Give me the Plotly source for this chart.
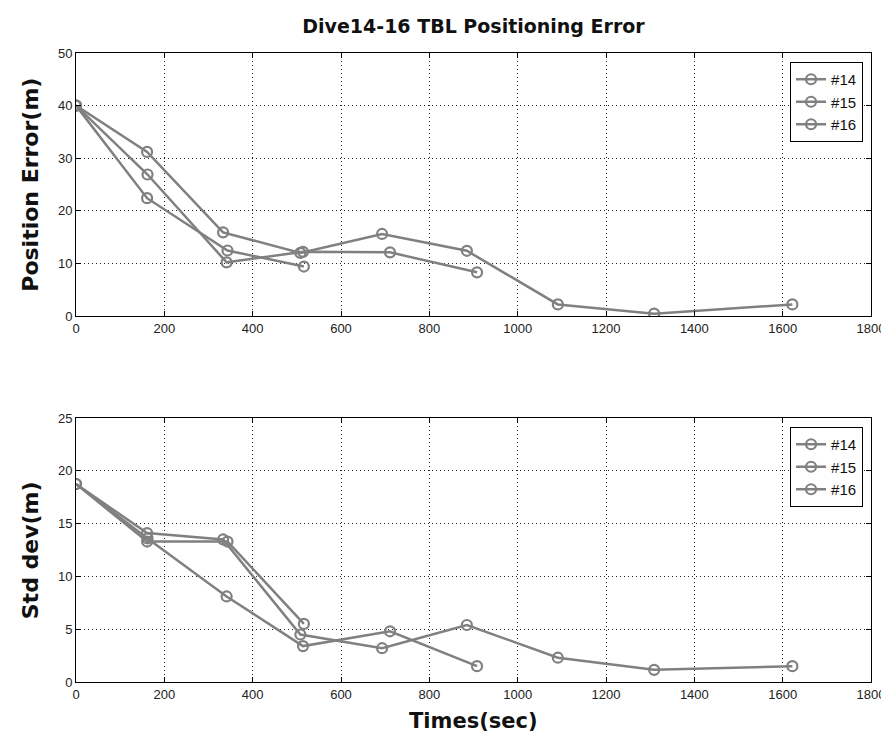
import plotly.graph_objects as go

# ---- data ----
series_names = ["#14", "#15", "#16"]

t14 = [0, 161, 333, 508, 693, 885, 1091, 1309, 1622]
t15 = [0, 162, 341, 514, 711, 908]
t16 = [0, 161, 343, 516]

err14 = [40, 31.2, 15.9, 12.0, 15.6, 12.4, 2.2, 0.45, 2.2]
err15 = [40, 26.9, 10.2, 12.2, 12.1, 8.3]
err16 = [40, 22.4, 12.45, 9.4]

std14 = [18.75, 14.1, 13.5, 4.5, 3.2, 5.4, 2.3, 1.15, 1.5]
std15 = [18.75, 13.6, 8.1, 3.4, 4.8, 1.5]
std16 = [18.75, 13.3, 13.3, 5.5]

x_ticks = list(range(0, 1801, 200))
y1_ticks = list(range(0, 51, 10))
y2_ticks = list(range(0, 26, 5))

title_text = "Dive14-16 TBL Positioning Error"
y1_title = "Position Error(m)"
y2_title = "Std dev(m)"
x_title = "Times(sec)"

LINE_COLOR = "#808080"

fig = go.Figure()

times = [t14, t15, t16]
errs = [err14, err15, err16]
stds = [std14, std15, std16]

for name, t, e in zip(series_names, times, errs):
    fig.add_trace(go.Scatter(
        x=t, y=e, name=name, mode="lines+markers",
        line=dict(color=LINE_COLOR, width=2.5),
        marker=dict(symbol="circle-open", size=10, color=LINE_COLOR, line=dict(width=2.2, color=LINE_COLOR)),
        xaxis="x", yaxis="y", legend="legend",
    ))
for name, t, s in zip(series_names, times, stds):
    fig.add_trace(go.Scatter(
        x=t, y=s, name=name, mode="lines+markers",
        line=dict(color=LINE_COLOR, width=2.5),
        marker=dict(symbol="circle-open", size=10, color=LINE_COLOR, line=dict(width=2.2, color=LINE_COLOR)),
        xaxis="x2", yaxis="y2", legend="legend2",
    ))

W, H = 889, 735
ml, mr, mt, mb = 68, 22, 45, 61
ph = H - mt - mb
top_bottom_px = 308
bot_top_px = 410
d1 = [(H - mb - top_bottom_px) / ph, 1.0]
d2 = [0.0, (H - mb - bot_top_px) / ph]

tick_font = dict(family="Liberation Sans, Arial, sans-serif", size=13, color="#222")
axis_common = dict(
    showline=True, linecolor="black", linewidth=1, mirror="ticks",
    ticks="inside", ticklen=5, tickcolor="black", tickwidth=1,
    showgrid=True, gridcolor="#222", griddash="1px,3px", gridwidth=1,
    zeroline=False, tickfont=tick_font,
)

legend_font = dict(family="Liberation Sans, Arial, sans-serif", size=15, color="#111")
fig.update_layout(
    width=W, height=H,
    margin=dict(l=ml, r=mr, t=mt, b=mb),
    paper_bgcolor="white", plot_bgcolor="white",
    xaxis=dict(domain=[0, 1], anchor="y", range=[0, 1800], tickvals=x_ticks, **axis_common),
    yaxis=dict(domain=d1, anchor="x", range=[0, 50], tickvals=y1_ticks, **axis_common),
    xaxis2=dict(domain=[0, 1], anchor="y2", range=[0, 1800], tickvals=x_ticks, **axis_common),
    yaxis2=dict(domain=d2, anchor="x2", range=[0, 25], tickvals=y2_ticks, **axis_common),
    legend=dict(x=(859 - ml) / (W - ml - mr), xanchor="right", y=(H - mb - 54) / ph, yanchor="top",
                bordercolor="black", borderwidth=1, bgcolor="white",
                font=legend_font, tracegroupgap=0, itemwidth=30),
    legend2=dict(x=(859 - ml) / (W - ml - mr), xanchor="right", y=(H - mb - 419) / ph, yanchor="top",
                 bordercolor="black", borderwidth=1, bgcolor="white",
                 font=legend_font, tracegroupgap=0, itemwidth=30),
    showlegend=True,
    title=dict(text="<b>" + title_text + "</b>", x=0.5, xref="paper", y=1 - 18 / H, yanchor="middle",
               font=dict(family="DejaVu Sans, sans-serif", size=19, color="#111")),
    annotations=[
        dict(text="<b>" + y1_title + "</b>", xref="paper", yref="paper", x=-46 / (W - ml - mr),
             y=(d1[0] + d1[1]) / 2, textangle=-90, showarrow=False, xanchor="center", yanchor="middle",
             font=dict(family="DejaVu Sans, sans-serif", size=22, color="#111")),
        dict(text="<b>" + y2_title + "</b>", xref="paper", yref="paper", x=-46 / (W - ml - mr),
             y=(d2[0] + d2[1]) / 2, textangle=-90, showarrow=False, xanchor="center", yanchor="middle",
             font=dict(family="DejaVu Sans, sans-serif", size=22, color="#111")),
        dict(text="<b>" + x_title + "</b>", xref="paper", yref="paper", x=0.5,
             y=-(713 - (H - mb)) / ph, showarrow=False, xanchor="center", yanchor="middle",
             font=dict(family="DejaVu Sans, sans-serif", size=21, color="#111")),
    ],
)

fig.write_html("out.html")
